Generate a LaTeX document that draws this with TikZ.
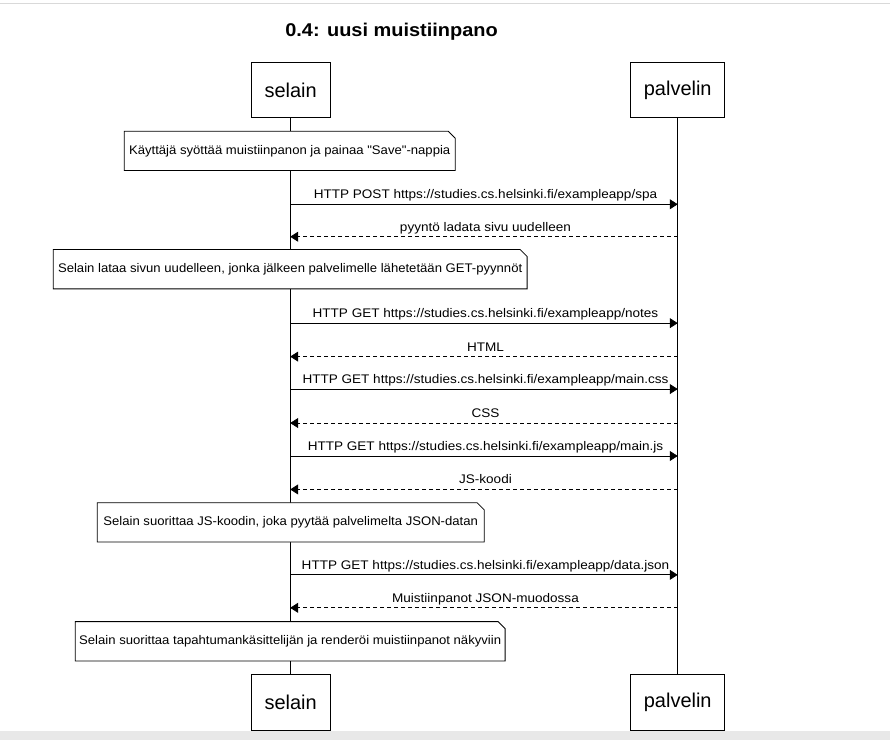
\documentclass[tikz,border=0pt]{standalone}
\usepackage{fontspec}
\setmainfont{Liberation Sans}
\newfontfamily\notefont[FakeStretch=1.05]{Liberation Sans}
\newfontfamily\lblfont[FakeStretch=1.085]{Liberation Sans}
\newfontfamily\titlefont[FakeStretch=1.08]{Liberation Sans Bold}
\newfontfamily\actorfont{Liberation Sans}
\usetikzlibrary{arrows.meta}
\begin{document}
\begin{tikzpicture}[x=1bp,y=-1bp,
  actor/.style={draw, line width=0.8bp, minimum height=56bp, inner sep=0pt, font=\actorfont\fontsize{20bp}{22bp}\selectfont},
  lbl/.style={font=\lblfont\fontsize{12.5bp}{14bp}\selectfont, inner sep=0pt, anchor=base, yshift=5.5bp, xshift=1.5bp},
  notelbl/.style={font=\notefont\fontsize{12.5bp}{14bp}\selectfont, inner sep=0pt},
  notetext/.style={inner sep=0pt, minimum height=39bp},
  notecut/.style={draw, line width=0.8bp, fill=white},
  life/.style={line width=0.8bp},
  msg/.style={line width=0.8bp, -{Triangle[length=8bp,width=10bp]}},
  reply/.style={msg, dash pattern=on 4bp off 3bp},
]
\newcommand{\notebox}[1]{%
  \draw[notecut] (#1.north west) -- ([xshift=-7bp]#1.north east) -- ([yshift=-7bp]#1.north east) -- (#1.south east) -- (#1.south west) -- cycle;}
% canvas
\fill[white] (0,0) rectangle (890,741);
\fill[black!9] (0,731.5) rectangle (890,741);
\draw[black!15, line width=1bp] (0,3.5) -- (890,3.5);
\useasboundingbox (0,0) rectangle (890,741);
% title
\node[font=\titlefont\fontsize{18.5bp}{21bp}\selectfont, inner sep=0pt, anchor=base] (title) at (391.5,36.3) {0.4: uusi muistiinpano};
% actors
\node[actor, minimum width=79bp] (sTop) at (290.5,90) {selain};
\node[actor, minimum width=94bp] (pTop) at (678,90) {palvelin};
\node[actor, minimum width=79bp] (sBot) at (290.5,703) {selain};
\node[actor, minimum width=94bp] (pBot) at (678,703) {palvelin};
\draw[life] (sTop.south) -- (sBot.north);
\draw[life] (pTop.south) -- (pBot.north);
% note 1
\node[notetext, minimum width=331bp] (n1) at (289.5,151) {};
\notebox{n1}
\node[notelbl] (n1t) at (n1) {Käyttäjä syöttää muistiinpanon ja painaa "Save"-nappia};
% messages
\coordinate (s1) at (290,204.5); \coordinate (p1) at (678,204.5);
\draw[msg] (s1) -- (p1) node[lbl, midway] (m1) {HTTP POST https://studies.cs.helsinki.fi/exampleapp/spa};
\coordinate (s2) at (290,237); \coordinate (p2) at (678,237);
\draw[reply] (p2) -- (s2) node[lbl, midway] (m2) {pyyntö ladata sivu uudelleen};
% note 2
\node[notetext, minimum width=474bp] (n2) at (290,269.5) {};
\notebox{n2}
\node[notelbl] (n2t) at (n2) {Selain lataa sivun uudelleen, jonka jälkeen palvelimelle lähetetään GET-pyynnöt};
\coordinate (s3) at (290,323.5); \coordinate (p3) at (678,323.5);
\draw[msg] (s3) -- (p3) node[lbl, midway] (m3) {HTTP GET https://studies.cs.helsinki.fi/exampleapp/notes};
\coordinate (s4) at (290,357); \coordinate (p4) at (678,357);
\draw[reply] (p4) -- (s4) node[lbl, midway] (m4) {HTML};
\coordinate (s5) at (290,389.5); \coordinate (p5) at (678,389.5);
\draw[msg] (s5) -- (p5) node[lbl, midway] (m5) {HTTP GET https://studies.cs.helsinki.fi/exampleapp/main.css};
\coordinate (s6) at (290,423.5); \coordinate (p6) at (678,423.5);
\draw[reply] (p6) -- (s6) node[lbl, midway] (m6) {CSS};
\coordinate (s7) at (290,456.5); \coordinate (p7) at (678,456.5);
\draw[msg] (s7) -- (p7) node[lbl, midway] (m7) {HTTP GET https://studies.cs.helsinki.fi/exampleapp/main.js};
\coordinate (s8) at (290,490); \coordinate (p8) at (678,490);
\draw[reply] (p8) -- (s8) node[lbl, midway] (m8) {JS-koodi};
% note 3
\node[notetext, minimum width=387bp] (n3) at (290.5,523) {};
\notebox{n3}
\node[notelbl] (n3t) at (n3) {Selain suorittaa JS-koodin, joka pyytää palvelimelta JSON-datan};
\coordinate (s9) at (290,575.5); \coordinate (p9) at (678,575.5);
\draw[msg] (s9) -- (p9) node[lbl, midway] (m9) {HTTP GET https://studies.cs.helsinki.fi/exampleapp/data.json};
\coordinate (s10) at (290,608.5); \coordinate (p10) at (678,608.5);
\draw[reply] (p10) -- (s10) node[lbl, midway] (m10) {Muistiinpanot JSON-muodossa};
% note 4
\node[notetext, minimum width=430bp] (n4) at (290,642) {};
\notebox{n4}
\node[notelbl] (n4t) at (n4) {Selain suorittaa tapahtumankäsittelijän ja renderöi muistiinpanot näkyviin};
\end{tikzpicture}
\end{document}
